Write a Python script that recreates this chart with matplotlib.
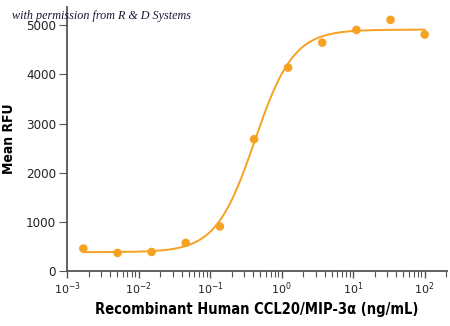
import numpy as np
import matplotlib.pyplot as plt
from matplotlib.ticker import LogLocator, FixedLocator, NullFormatter

# Dose (ng/mL) and mean RFU for each well, 3-fold serial dilution
conc = [0.00169, 0.00508, 0.0152, 0.0457, 0.137, 0.412, 1.23, 3.70, 11.1, 33.3, 100.0]
rfu = [450, 360, 380, 565, 900, 2680, 4140, 4650, 4910, 5115, 4815]

# 4-parameter logistic fit parameters
fit_bottom = 375
fit_top = 4915
fit_ec50 = 0.42
fit_hill = 1.6

y_ticks = [0, 1000, 2000, 3000, 4000, 5000]
x_decades = [1e-3, 1e-2, 1e-1, 1e0, 1e1, 1e2]
x_labels = ['$10^{-3}$', '$10^{-2}$', '$10^{-1}$', '$10^{0}$', '$10^{1}$', '$10^{2}$']

orange = '#f5a122'
axis_grey = '#555555'

fig = plt.figure(figsize=(4.5, 3.26), dpi=100)
ax = fig.add_axes([0.149, 0.170, 0.844, 0.809])

# fitted curve
xs = np.logspace(np.log10(conc[0]), np.log10(conc[-1]), 400)
ys = fit_bottom + (fit_top - fit_bottom) / (1 + (fit_ec50 / xs) ** fit_hill)
ax.plot(xs, ys, color=orange, lw=1.4, zorder=2)
ax.scatter(conc, rfu, s=38, color=orange, edgecolors='none', zorder=3)

ax.set_xscale('log')
ax.set_xlim(1e-3, 10 ** 2.31)
ax.set_ylim(0, 5380)

ax.xaxis.set_major_locator(FixedLocator(x_decades))
ax.set_xticklabels(x_labels, fontsize=8, stretch='condensed', color='#222222')
ax.xaxis.set_minor_locator(LogLocator(base=10, subs=np.arange(2, 10)))
ax.xaxis.set_minor_formatter(NullFormatter())
ax.set_yticks(y_ticks)
ax.set_yticklabels([str(v) for v in y_ticks], fontsize=9.5, stretch='condensed', color='#222222')

ax.tick_params(axis='x', which='major', length=5, width=1, color=axis_grey, pad=2)
ax.tick_params(axis='x', which='minor', length=4, width=0.8, color=axis_grey)
ax.tick_params(axis='y', which='major', length=6, width=0.8, color=axis_grey, pad=2)

for side in ['top', 'right']:
    ax.spines[side].set_visible(False)
for side in ['left', 'bottom']:
    ax.spines[side].set_color(axis_grey)
    ax.spines[side].set_linewidth(1.3)

ax.set_ylabel('Mean RFU', fontsize=10, fontweight='bold', stretch='condensed', labelpad=7)
ax.set_xlabel('Recombinant Human CCL20/MIP-3α (ng/mL)', fontsize=10.5,
              fontweight='bold', stretch='condensed', labelpad=4)

fig.text(0.027, 0.942, 'with permission from R & D Systems', fontsize=8.7,
         style='italic', family=['Liberation Serif', 'DejaVu Serif'], color='#1a1a3a')

fig.savefig('out.png', dpi=100)
